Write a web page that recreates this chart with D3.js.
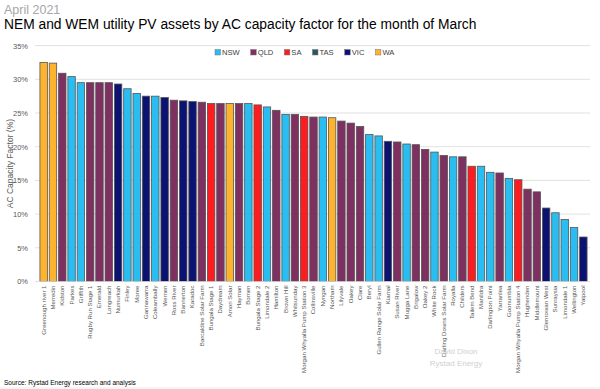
<!DOCTYPE html>
<html>
<head>
<meta charset="utf-8">
<script src="https://d3js.org/d3.v7.min.js"></script>
<style>
  body { margin: 0; background: #fff; }
  svg { display: block; font-family: "Liberation Sans", Arial, sans-serif; }
</style>
</head>
<body>
<svg id="chart" width="600" height="389"></svg>
<script>
// asset names, in the order shown
const assets = ['Greenough river 1','Merredin','Kidston','Parkes','Griffith','Rugby Run Stage 1','Emerald','Longreach','Numurkah','Finley',
  'Moree','Gannawarra','Coleambally','Wemen','Ross River','Bannerton','Karadoc','Barcaldine Solar Farm','Bungala Stage 1','Daydream',
  'Amori Solar','Hayman','Bomen','Bungala Stage 2','Limondale 2','Hamilton','Brown Hill','Whitsunday','Morgan Whyalla Pump Station 3','Collinsville',
  'Nyngan','Northam','Lilyvale','Oakey','Clare','Beryl','Gullen Range Solar Farm','Kiamal','Susan River','Mugga Lane',
  'Brigalow','Oakey 2','White Rock','Darling Downs Solar Farm','Royalla','Childers','Tailem Bend','Manildra','Darlington Point','Yarranlea',
  'Goonumbla','Morgan Whyalla Pump Station 4','Hughenden','Middlemount','Glenrowan West','Sunraysia','Limondale 1','Wellington','Yatpool']

const states = ['WA','WA','QLD','NSW','NSW','QLD','QLD','QLD','VIC','NSW',
  'NSW','VIC','NSW','VIC','QLD','VIC','VIC','QLD','SA','QLD',
  'WA','QLD','NSW','SA','NSW','QLD','NSW','QLD','SA','QLD',
  'NSW','WA','QLD','QLD','QLD','NSW','NSW','VIC','QLD','NSW',
  'QLD','QLD','NSW','QLD','NSW','QLD','SA','NSW','NSW','QLD',
  'NSW','SA','QLD','QLD','VIC','NSW','NSW','NSW','VIC']

// capacity factor, %
const capFactor = [32.5,32.4,30.9,30.4,29.5,29.5,29.5,29.5,29.3,28.6,
  27.9,27.5,27.5,27.3,26.9,26.8,26.7,26.6,26.4,26.4,
  26.4,26.4,26.4,26.2,25.9,25.4,24.8,24.8,24.5,24.4,
  24.4,24.3,23.8,23.5,23.0,21.8,21.6,20.8,20.7,20.4,
  20.3,19.6,19.2,18.7,18.5,18.5,17.1,17.1,16.2,16.1,
  15.3,15.1,13.7,13.3,10.9,10.2,9.2,8.0,6.6]

const legendKeys = ['NSW','QLD','SA','TAS','VIC','WA']
const stateColors = ['#29bdf2','#7e3061','#fd1c1f','#2e5566','#0b1272','#fdb32d']
const yTicks = [0,5,10,15,20,25,30,35]

const data = assets.map((a, i) => ({name: a, state: states[i], value: capFactor[i]}))

const svg = d3.select('#chart')
const margin = {top: 45.6, left: 39, right: 12, bottom: 107.5}
const W = 600, H = 389

const color = d3.scaleOrdinal().domain(legendKeys).range(stateColors)

const x = d3.scaleBand()
  .domain(assets)
  .range([margin.left, W - margin.right])
  .paddingInner(0.2)
  .paddingOuter(0.1)

const y = d3.scaleLinear()
  .domain([0, 35])
  .range([H - margin.bottom, margin.top])

// titles
svg.append('text').attr('x', 4).attr('y', 14)
  .style('font-size', '12.5px').style('fill', '#a6a6a6')
  .text('April 2021')
svg.append('text').attr('x', 4).attr('y', 29)
  .style('font-size', '13.8px').style('fill', '#000')
  .text('NEM and WEM utility PV assets by AC capacity factor for the month of March')

// gridlines
svg.append('g').selectAll('line')
  .data(yTicks.filter(d => d > 0))
  .join('line')
  .attr('x1', 35).attr('x2', W - 10)
  .attr('y1', d => y(d)).attr('y2', d => y(d))
  .attr('stroke', '#d9d9d9').attr('stroke-width', 0.8)

// y axis (ticks hidden, labels only)
const yAxis = svg.append('g')
  .attr('transform', 'translate(' + 31 + ',0)')
  .call(d3.axisLeft(y).tickValues(yTicks).tickSize(0).tickFormat(d => d + '%'))
yAxis.select('.domain').remove()
yAxis.selectAll('text')
  .style('font-size', '7.5px').style('fill', '#595959')
  .style('font-family', '"Liberation Sans", Arial, sans-serif')

svg.append('text')
  .attr('transform', 'translate(13,' + ((margin.top + H - margin.bottom) / 2) + ') rotate(-90)')
  .attr('text-anchor', 'middle')
  .style('font-size', '8.5px').style('fill', '#595959')
  .text('AC Capacity Factor (%)')

// bars
svg.append('g').selectAll('rect')
  .data(data)
  .join('rect')
  .attr('x', d => x(d.name))
  .attr('y', d => y(d.value))
  .attr('width', x.bandwidth())
  .attr('height', d => y(0) - y(d.value))
  .attr('fill', d => color(d.state))
  .attr('stroke', '#555')
  .attr('stroke-width', 0.8)

// baseline
svg.append('line')
  .attr('x1', 35).attr('x2', W - 10)
  .attr('y1', y(0)).attr('y2', y(0))
  .attr('stroke', '#d9d9d9').attr('stroke-width', 0.8)

// x labels
const xAxis = svg.append('g')
  .attr('transform', 'translate(0,' + y(0) + ')')
  .call(d3.axisBottom(x).tickSize(0))
xAxis.select('.domain').remove()
xAxis.selectAll('text')
  .attr('transform', 'rotate(-90)')
  .attr('text-anchor', 'end')
  .attr('x', -4).attr('y', 0).attr('dy', '0.32em')
  .style('font-size', '6.1px').style('fill', '#595959')
  .style('font-family', '"Liberation Sans", Arial, sans-serif')

// legend
const legend = svg.append('g').attr('transform', 'translate(215,55)')
let lx = 0
legendKeys.forEach((k, i) => {
  const g = legend.append('g').attr('transform', 'translate(' + lx + ',0)')
  g.append('rect').attr('x', 0).attr('y', -5.5).attr('width', 5.5).attr('height', 5.5)
    .attr('fill', stateColors[i]).attr('stroke', '#777').attr('stroke-width', 0.5)
  const t = g.append('text').attr('x', 7).attr('y', 0)
    .style('font-size', '7.6px').style('fill', '#404040').text(k)
  lx += 7 + t.node().getComputedTextLength() + 11
})

// watermark
svg.append('text').attr('x', 456).attr('y', 354).attr('text-anchor', 'middle')
  .style('font-size', '8px').style('fill', '#d0d0d0').text('David Dixon')
svg.append('text').attr('x', 456).attr('y', 366).attr('text-anchor', 'middle')
  .style('font-size', '8px').style('fill', '#d0d0d0').text('Rystad Energy')

// source
svg.append('text').attr('x', 4).attr('y', 385)
  .style('font-size', '6.5px').style('fill', '#000')
  .text('Source: Rystad Energy research and analysis')
svg.append('line').attr('x1', 0).attr('x2', W).attr('y1', 388).attr('y2', 388)
  .attr('stroke', '#e6e6e6').attr('stroke-width', 0.8)
</script>
</body>
</html>
